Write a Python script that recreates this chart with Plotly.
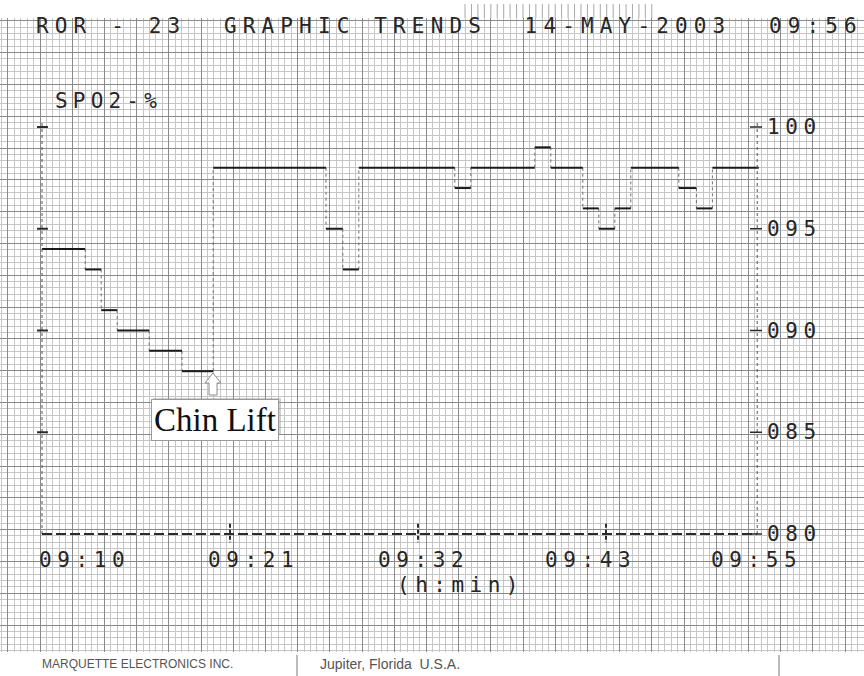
import plotly.graph_objects as go

W, H = 864, 676

# ---------------- data ----------------
step_times = [0, 2.7, 3.7, 4.7, 6.7, 8.75, 10.7, 17.75, 18.8, 19.8, 25.8, 26.8,
              30.8, 31.8, 33.8, 34.8, 35.8, 36.8, 39.8, 40.9, 41.9]       # minutes after 09:10
spo2_values = [94, 93, 91, 90, 89, 88, 98, 95, 93, 98, 97, 98,
               99, 98, 96, 95, 96, 98, 97, 96, 98]                      # SpO2 %
trend_end = 44.8
axis_end = 44.7
x_tick_labels = ["09:10", "09:21", "09:32", "09:43", "09:55"]
x_label_starts = [-0.25, 10.3, 20.95, 31.4, 41.75]
x_tick_times = [11.75, 23.5, 35.25]
y_tick_values = [100, 95, 90, 85, 80]
title_text = "ROR - 23  GRAPHIC TRENDS  14-MAY-2003  09:56"
y_title = "SPO2-%"
x_unit = "(h:min)"
chin_lift_label = "Chin Lift"
chin_lift_time = 10.7
chin_lift_value = 88
footer_left = "MARQUETTE ELECTRONICS INC."
footer_mid = "Jupiter, Florida  U.S.A."

# ---------------- helpers ----------------
def px(x):
    return x / W

def py(y):
    return 1 - y / H

MONO = "DejaVu Sans Mono"
INK = "#262626"

def spaced(s, ls):
    return '<span style="letter-spacing:%.2fpx">%s</span>' % (ls, s.replace(" ", "\u00a0"))

# ---------------- traces ----------------
ends = step_times[1:] + [trend_end]
hx, hy = [], []
for t0, t1, v in zip(step_times, ends, spo2_values):
    hx += [t0, t1, None]
    hy += [v, v, None]
vx, vy = [], []
for i in range(1, len(step_times)):
    vx += [step_times[i], step_times[i], None]
    vy += [spo2_values[i - 1], spo2_values[i], None]

fig = go.Figure()
fig.add_trace(go.Scatter(x=vx, y=vy, mode="lines",
                         line=dict(color="#6e6e6e", width=1, dash="dot"),
                         hoverinfo="skip", showlegend=False))
fig.add_trace(go.Scatter(x=hx, y=hy, mode="lines",
                         line=dict(color="#1a1a1a", width=2),
                         hoverinfo="skip", showlegend=False))

# ---------------- axes (chart-paper grid) ----------------
x_major = 32.2 / 16
y_major = 31.8 / 20.35
fig.update_xaxes(domain=[0, 1], range=[-42 / 16, (W - 42) / 16],
                 tickmode="linear", tick0=-0.125, dtick=x_major,
                 showgrid=True, gridcolor="#8a8a8a", gridwidth=1,
                 showticklabels=False, ticks="", zeroline=False, showline=False,
                 minor=dict(tick0=-0.125, dtick=x_major / 5, showgrid=True,
                            gridcolor="#c6c6c6", gridwidth=1))
fig.update_yaxes(domain=[(H - 652) / H, (H - 18) / H],
                 range=[80 - (652 - 534) / 20.35, 80 + (534 - 18) / 20.35],
                 tickmode="linear", tick0=80 + (534 - 148) / 20.35, dtick=y_major,
                 showgrid=True, gridcolor="#8a8a8a", gridwidth=1,
                 showticklabels=False, ticks="", zeroline=False, showline=False,
                 minor=dict(tick0=80 + (534 - 148) / 20.35, dtick=y_major / 5,
                            showgrid=True, gridcolor="#c6c6c6", gridwidth=1))

shapes = []
# left / right dotted axes
for xa in [0, axis_end]:
    shapes.append(dict(type="line", xref="x", yref="y", x0=xa, x1=xa, y0=80, y1=100.35,
                       line=dict(color="#555", width=1, dash="dot")))
# bottom dashed baseline
shapes.append(dict(type="line", xref="x", yref="y", x0=0, x1=axis_end, y0=80, y1=80,
                   line=dict(color="#2a2a2a", width=2, dash="10px,4px")))
for t in x_tick_times:
    shapes.append(dict(type="line", xref="x", yref="y", x0=t, x1=t, y0=80.5, y1=79.6,
                       line=dict(color="#2a2a2a", width=2, dash="4px,2px")))
# y ticks on both axes
for v in y_tick_values[:-1]:
    shapes.append(dict(type="line", xref="x", yref="y", x0=-0.31, x1=0.37, y0=v, y1=v,
                       line=dict(color="#2a2a2a", width=2)))
for v in y_tick_values:
    shapes.append(dict(type="line", xref="x", yref="y", x0=axis_end - 0.45,
                       x1=axis_end + 0.3, y0=v, y1=v,
                       line=dict(color="#2a2a2a", width=1.5)))

# paper tear marks at top
path = ""
xx = 40 + 6.44 * 66
while xx <= 652:
    path += "M%.4f,%.4f L%.4f,%.4f " % (px(xx), py(4), px(xx), py(18))
    xx += 6.44
shapes.append(dict(type="path", xref="paper", yref="paper", path=path,
                   line=dict(color="#a8a8a8", width=1)))

# chin-lift box shadow and hollow arrow
shapes.append(dict(type="rect", xref="paper", yref="paper",
                   x0=px(153), x1=px(281), y0=py(398), y1=py(434),
                   fillcolor="rgba(150,150,150,0.45)", line=dict(width=0)))
arrow_pts = [(213, 373), (221, 383), (217, 383), (217, 395), (209, 395), (209, 383), (205, 383)]
apath = "M" + " L".join("%.4f,%.4f" % (px(a), py(b)) for a, b in arrow_pts) + " Z"
shapes.append(dict(type="path", xref="paper", yref="paper", path=apath,
                   fillcolor="white", line=dict(color="#8a8a8a", width=1)))

# footer
shapes.append(dict(type="rect", xref="paper", yref="paper", x0=0, x1=1, y0=0, y1=py(652),
                   fillcolor="white", line=dict(width=0), layer="above"))
for xs in [297, 779]:
    shapes.append(dict(type="line", xref="paper", yref="paper", x0=px(xs), x1=px(xs),
                       y0=py(655), y1=0, line=dict(color="#777", width=1)))
shapes.append(dict(type="rect", xref="paper", yref="paper", x0=0, x1=1, y0=py(18), y1=1,
                   fillcolor="white", line=dict(width=0), layer="below"))

annotations = []
def add_text(text, x, y, size=21, ls=6.1, xref="paper", yref="paper", family=MONO,
             color=INK):
    annotations.append(dict(text=spaced(text, ls), x=x, y=y, xref=xref, yref=yref,
                            xanchor="left", yanchor="middle", align="left",
                            showarrow=False, borderpad=0,
                            font=dict(family=family, size=size, color=color)))

add_text(title_text, px(35), py(25.5), ls=6.15)
add_text(y_title, px(54), py(101.5), ls=5.2)
for v in y_tick_values:
    add_text("%03d" % v, px(766), v, yref="y", ls=5.6)
for lab, xs in zip(x_tick_labels, x_label_starts):
    add_text(lab, xs, py(559.5), xref="x", ls=5.6)
add_text(x_unit, px(396), py(585), ls=5.5)

annotations.append(dict(text=chin_lift_label, x=chin_lift_time, y=chin_lift_value,
                        xref="x", yref="y", xanchor="center", yanchor="middle",
                        xshift=1.5, yshift=-49, showarrow=False,
                        bgcolor="white", bordercolor="#9a9a9a", borderwidth=1, borderpad=2,
                        font=dict(family="Liberation Serif", size=33, color="#111")))

annotations.append(dict(text=footer_left, x=px(40), y=py(664), xref="paper", yref="paper",
                        xanchor="left", yanchor="middle", showarrow=False,
                        font=dict(family="Liberation Sans", size=12, color="#555")))
annotations.append(dict(text=footer_mid.replace(" ", "\u00a0"), x=px(318), y=py(664),
                        xref="paper", yref="paper",
                        xanchor="left", yanchor="middle", showarrow=False,
                        font=dict(family="Liberation Sans", size=14, color="#555")))

fig.update_layout(width=W, height=H, autosize=False,
                  margin=dict(l=0, r=0, t=0, b=0, pad=0),
                  paper_bgcolor="white", plot_bgcolor="white",
                  shapes=shapes, annotations=annotations, showlegend=False)

fig.write_html("out.html", config={"displayModeBar": False},
               post_script="document.body.style.margin='0';document.body.style.padding='0';")
